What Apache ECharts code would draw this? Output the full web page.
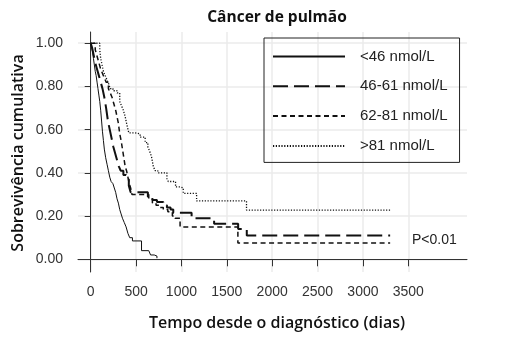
<!DOCTYPE html>
<html>
<head>
<meta charset="utf-8">
<script src="https://cdn.jsdelivr.net/npm/echarts@6/dist/echarts.min.js"></script>
<style>html,body{margin:0;padding:0;background:#fff;}#c{width:517px;height:342px;}</style>
</head>
<body>
<div id="c"></div>
<script>
// ---- data ----
const seriesNames = ['<46 nmol/L', '46-61 nmol/L', '62-81 nmol/L', '>81 nmol/L'];
const xTicks = [0, 500, 1000, 1500, 2000, 2500, 3000, 3500];
const yTicks = [0, 0.2, 0.4, 0.6, 0.8, 1.0];

const tLow = [0,10,20,30,40,50,60,70,80,90,100,110,120,130,140,150,165,180,195,210,225,245,260,275,290,305,320,335,350,370,390,410,430,460,560,640,660,700,730];
const sLow = [1,0.98,0.96,0.93,0.90,0.87,0.85,0.82,0.79,0.76,0.73,0.69,0.64,0.59,0.55,0.51,0.47,0.44,0.41,0.38,0.36,0.35,0.33,0.31,0.28,0.26,0.23,0.21,0.19,0.17,0.15,0.12,0.10,0.085,0.04,0.035,0.02,0.015,0.005];

const tMid1 = [0,15,30,50,70,90,110,130,150,170,190,210,230,250,270,290,310,330,360,390,420,440,630,680,730,800,840,880,910,1112,1360,1625,1720,3300];
const sMid1 = [1,0.98,0.95,0.91,0.88,0.85,0.82,0.79,0.75,0.70,0.64,0.60,0.56,0.52,0.49,0.46,0.43,0.41,0.39,0.37,0.34,0.31,0.29,0.275,0.265,0.25,0.24,0.23,0.215,0.19,0.165,0.14,0.11,0.11];

const tMid2 = [0,50,70,90,110,130,150,170,195,215,235,255,275,290,305,320,335,350,365,380,395,410,425,440,455,640,680,720,760,800,850,900,930,985,1622,3300];
const sMid2 = [1,0.97,0.94,0.91,0.88,0.86,0.84,0.82,0.79,0.77,0.75,0.72,0.69,0.66,0.63,0.58,0.55,0.51,0.47,0.43,0.41,0.38,0.35,0.33,0.30,0.28,0.26,0.25,0.24,0.23,0.22,0.20,0.19,0.15,0.075,0.075];

const tHigh = [0,100,110,125,140,160,180,200,215,245,290,320,340,360,380,400,420,490,545,600,630,650,670,690,710,740,840,855,935,990,1020,1167,1717,3300];
const sHigh = [1,0.97,0.93,0.90,0.87,0.85,0.83,0.81,0.79,0.78,0.77,0.73,0.71,0.69,0.66,0.62,0.585,0.58,0.565,0.54,0.52,0.50,0.475,0.43,0.41,0.40,0.37,0.36,0.335,0.33,0.305,0.27,0.228,0.228];

const pText = 'P<0.01';
const titleText = 'Câncer de pulmão';
const xTitle = 'Tempo desde o diagnóstico (dias)';
const yTitle = 'Sobrevivência cumulativa';

// ---- build ----
function pairs(t, s) { return t.map((v, i) => [v, s[i]]); }
const times = [tLow, tMid1, tMid2, tHigh];
const survs = [sLow, sMid1, sMid2, sHigh];
const styles = [
  { type: 'solid', width: 1 },
  { type: [15, 6], width: 2 },
  { type: [5, 3.5], width: 1.5 },
  { type: [1.2, 1.6], width: 1.3 }
];

const chart = echarts.init(document.getElementById('c'), null, { renderer: 'canvas' });
const tickFont = 'Liberation Sans, Arial, sans-serif';
const titleFont = 'Open Sans, sans-serif';

chart.setOption({
  animation: false,
  backgroundColor: '#fff',
  grid: { left: 78, right: 50, top: 32, bottom: 70, containLabel: false },
  xAxis: {
    type: 'value', min: -140, max: 4147,
    axisLine: { show: true, lineStyle: { color: '#333', width: 1 } },
    axisTick: { show: true, length: 7, customValues: xTicks, lineStyle: { color: '#333' } },
    axisLabel: { customValues: xTicks, margin: 13, color: '#333', fontSize: 14, fontFamily: tickFont,
      formatter: v => String(v) },
    splitLine: { show: true, lineStyle: { color: '#ebebeb', width: 1.5 } }
  },
  yAxis: {
    type: 'value', min: -0.0588, max: 1.052,
    axisLine: { show: true, lineStyle: { color: '#333', width: 1 } },
    axisTick: { show: true, length: 6, customValues: yTicks, lineStyle: { color: '#333' } },
    axisLabel: { customValues: yTicks, margin: 15, color: '#333', fontSize: 14, fontFamily: tickFont,
      formatter: v => v.toFixed(2) },
    splitLine: { show: true, lineStyle: { color: '#ebebeb', width: 1.5 } }
  },
  legend: {
    left: 264, top: 38, orient: 'vertical',
    padding: [11, 12, 9, 8],
    itemWidth: 72, itemHeight: 14, itemGap: 14.8,
    borderColor: '#222', borderWidth: 1,
    itemStyle: { opacity: 0 },
    textStyle: { fontSize: 15, fontFamily: tickFont, color: '#222', lineHeight: 14, padding: [0, 0, 0, 10] },
    data: seriesNames
  },
  series: seriesNames.map((n, i) => ({
    name: n, type: 'line', step: 'end', symbol: 'none',
    data: pairs(times[i], survs[i]),
    lineStyle: { color: '#111', width: styles[i].width, type: styles[i].type },
    itemStyle: { color: '#111' }
  })),
  graphic: [
    { type: 'text', x: 277, y: 18, style: { text: titleText, font: '700 15.5px ' + titleFont, fill: '#111', textAlign: 'center', textVerticalAlign: 'middle' } },
    { type: 'text', x: 277, y: 323, style: { text: xTitle, font: '600 16px ' + titleFont, fill: '#111', textAlign: 'center', textVerticalAlign: 'middle' } },
    { type: 'text', x: 18, y: 153, rotation: Math.PI / 2, style: { text: yTitle, font: '600 16px ' + titleFont, fill: '#111', textAlign: 'center', textVerticalAlign: 'middle' } },
    { type: 'text', x: 412, y: 240, style: { text: pText, font: '14px ' + tickFont, fill: '#222', textAlign: 'left', textVerticalAlign: 'middle' } }
  ]
});
</script>
</body>
</html>
